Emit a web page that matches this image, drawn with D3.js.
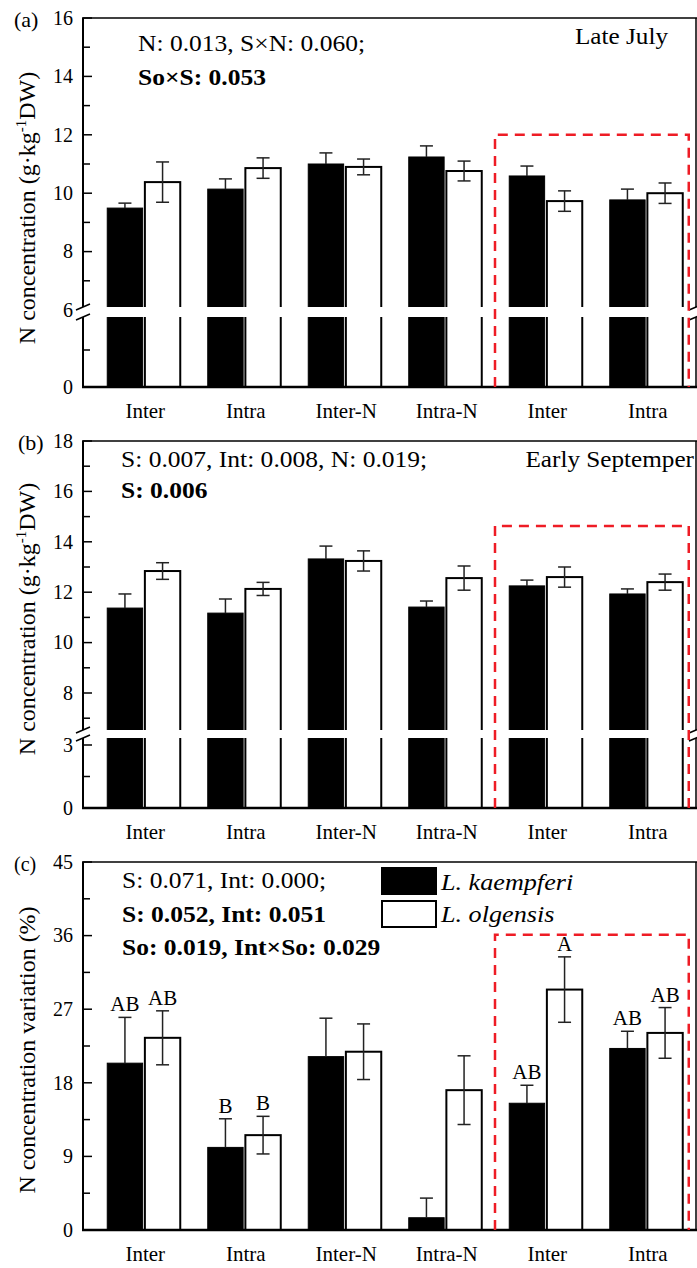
<!DOCTYPE html>
<html>
<head>
<meta charset="utf-8">
<script src="https://cdn.jsdelivr.net/npm/d3@7"></script>
<style>
  body { margin: 0; background: #fff; }
  svg { display: block; font-family: "Liberation Serif", "Times New Roman", serif; }
</style>
</head>
<body>
<svg id="chart" width="697" height="1268"></svg>
<script>
// categories
const groups = ["Inter", "Intra", "Inter-N", "Intra-N", "Inter", "Intra"];
const species = ["L. kaempferi", "L. olgensis"];

// (a) Late July, N concentration
const julyKaempferi = [9.49, 10.14, 11.0, 11.24, 10.59, 9.77];
const julyKaempferiErr = [0.17, 0.35, 0.38, 0.38, 0.34, 0.37];
const julyOlgensis = [10.38, 10.86, 10.9, 10.76, 9.73, 10.0];
const julyOlgensisErr = [0.69, 0.35, 0.27, 0.34, 0.35, 0.35];

// (b) Early September, N concentration
const septKaempferi = [11.37, 11.17, 13.32, 11.41, 12.25, 11.93];
const septKaempferiErr = [0.56, 0.56, 0.51, 0.24, 0.23, 0.2];
const septOlgensis = [12.84, 12.13, 13.24, 12.56, 12.6, 12.4];
const septOlgensisErr = [0.33, 0.26, 0.4, 0.48, 0.4, 0.32];

// (c) N concentration variation (%)
const varKaempferi = [20.4, 10.1, 21.2, 1.5, 15.5, 22.2];
const varKaempferiErr = [5.6, 3.5, 4.7, 2.4, 2.2, 2.1];
const varOlgensis = [23.5, 11.6, 21.8, 17.1, 29.4, 24.1];
const varOlgensisErr = [3.3, 2.3, 3.4, 4.2, 4.0, 3.1];
const varLettersK = ["AB", "B", "", "", "AB", "AB"];
const varLettersO = ["AB", "B", "", "", "A", "AB"];

// axis ticks
const ticksAUpper = [6, 8, 10, 12, 14, 16], minorAUpper = [7, 9, 11, 13, 15];
const ticksALower = [0], minorALower = [3];
const ticksBUpper = [8, 10, 12, 14, 16, 18], minorBUpper = [7, 9, 11, 13, 15, 17];
const ticksBLower = [0, 3], minorBLower = [1.5];
const ticksC = [0, 9, 18, 27, 36, 45], minorC = [4.5, 13.5, 22.5, 31.5, 40.5];

// stats text
const notesA = ["N: 0.013, S×N: 0.060;", "So×S: 0.053"];
const notesB = ["S: 0.007, Int: 0.008, N: 0.019;", "S: 0.006"];
const notesC = ["S: 0.071, Int: 0.000;", "S: 0.052, Int: 0.051", "So: 0.019, Int×So: 0.029"];

const svg = d3.select("#chart");
const left = 83, right = 696;
const red = "#ee1c25";

const x = d3.scaleBand().domain(d3.range(groups.length)).range([95, 698]);
const x1 = d3.scaleBand().domain([0, 1]).range([-38, 35]).paddingInner(0.06);
const center = i => x(i) + x.bandwidth() / 2;

// text slightly wider than the font, as in the original figure
function wideText(g, tx, ty, sx) {
  return g.append("text").attr("transform", `translate(${tx},${ty}) scale(${sx},1)`);
}

function drawPanel(p) {
  const g = svg.append("g");
  // y function, piecewise when the axis is broken
  const yUp = d3.scaleLinear().domain(p.upDomain).range(p.upRange);
  const yLo = p.loDomain ? d3.scaleLinear().domain(p.loDomain).range(p.loRange) : null;
  const y = v => (yLo && v < p.breakVal) ? yLo(v) : yUp(v);

  const series = [
    { vals: p.k, errs: p.kErr, fill: "#000", letters: p.lettersK },
    { vals: p.o, errs: p.oErr, fill: "#fff", letters: p.lettersO }
  ];

  series.forEach((s, si) => {
    g.selectAll(null).data(s.vals).enter().append("rect")
      .attr("x", (d, i) => center(i) + x1(si))
      .attr("width", x1.bandwidth())
      .attr("y", d => y(d))
      .attr("height", d => p.bottom - y(d))
      .attr("fill", s.fill)
      .attr("stroke", "#000")
      .attr("stroke-width", si === 0 ? 1 : 2);
  });

  // error bars (lower half hidden inside the black bars)
  series.forEach((s, si) => {
    s.vals.forEach((v, i) => {
      const cx = center(i) + x1(si) + x1.bandwidth() / 2;
      const e = s.errs[i];
      const ends = si === 0 ? [v + e] : [v + e, v - e];
      g.append("line").attr("x1", cx).attr("x2", cx)
        .attr("y1", y(si === 0 ? v : v - e)).attr("y2", y(v + e))
        .attr("stroke", "#222").attr("stroke-width", 1.5);
      ends.forEach(t => {
        g.append("line").attr("x1", cx - 6.5).attr("x2", cx + 6.5)
          .attr("y1", y(t)).attr("y2", y(t))
          .attr("stroke", "#222").attr("stroke-width", 1.5);
      });
      if (s.letters && s.letters[i]) {
        g.append("text").attr("x", cx).attr("y", y(v + e) - 6)
          .attr("text-anchor", "middle").attr("font-size", 21)
          .text(s.letters[i]);
      }
    });
  });

  // axis break gap
  if (p.gap) {
    g.append("rect").attr("x", 76).attr("y", p.gap[0])
      .attr("width", 630).attr("height", p.gap[1] - p.gap[0]).attr("fill", "#fff");
  }

  // frame
  const segs = p.gap ? [[p.top, p.gap[0]], [p.gap[1], p.bottom]] : [[p.top, p.bottom]];
  segs.forEach(sg => {
    g.append("line").attr("x1", left).attr("x2", left).attr("y1", sg[0]).attr("y2", sg[1])
      .attr("stroke", "#000").attr("stroke-width", 2);
    g.append("line").attr("x1", right).attr("x2", right).attr("y1", sg[0]).attr("y2", sg[1])
      .attr("stroke", "#000").attr("stroke-width", 1.5);
  });
  g.append("line").attr("x1", left - 1).attr("x2", right + 1).attr("y1", p.top).attr("y2", p.top)
    .attr("stroke", "#000").attr("stroke-width", 1.5);
  g.append("line").attr("x1", left - 1).attr("x2", right + 1).attr("y1", p.bottom).attr("y2", p.bottom)
    .attr("stroke", "#000").attr("stroke-width", 2.5);

  if (p.gap) {
    [left, right].forEach(ax => {
      p.gap.forEach(gy => {
        g.append("line").attr("x1", ax - 7).attr("x2", ax + 7)
          .attr("y1", gy + 3).attr("y2", gy - 3)
          .attr("stroke", "#000").attr("stroke-width", 1.5);
      });
    });
  }

  // ticks (inward) and labels
  const tickSets = [
    { scale: yUp, major: p.upTicks, minor: p.upMinor, up: true },
    yLo ? { scale: yLo, major: p.loTicks, minor: p.loMinor, up: false } : null
  ].filter(Boolean);
  tickSets.forEach(ts => {
    ts.major.forEach(t => {
      const ty = ts.scale(t);
      if (!(p.hideTick && p.hideTick.includes(t) && ts.up)) {
        g.append("line").attr("x1", left).attr("x2", left + 9).attr("y1", ty).attr("y2", ty)
          .attr("stroke", "#000").attr("stroke-width", 1.5);
      }
      g.append("text").attr("x", 73).attr("y", ty).attr("dy", "0.34em")
        .attr("text-anchor", "end").attr("font-size", 20).text(t);
    });
    ts.minor.forEach(t => {
      const ty = ts.scale(t);
      g.append("line").attr("x1", left).attr("x2", left + 7).attr("y1", ty).attr("y2", ty)
        .attr("stroke", "#000").attr("stroke-width", 1.5);
    });
  });

  // red dashed box
  const bx0 = (center(3) + center(4)) / 2 - 2;
  const bx1 = center(5) + 41;
  const by = y(p.boxTop);
  g.append("path")
    .attr("d", `M${bx0},${p.bottom} L${bx0},${by} L${bx1},${by} L${bx1},${p.bottom}`)
    .attr("fill", "none").attr("stroke", red).attr("stroke-width", 2.5)
    .attr("stroke-dasharray", "10,7");

  // x labels
  g.selectAll(null).data(groups).enter().append("text")
    .attr("x", (d, i) => center(i)).attr("y", p.bottom + 31)
    .attr("text-anchor", "middle").attr("font-size", 21).text(d => d);

  // panel label
  g.append("text").attr("x", p.labelX).attr("y", p.top + 9)
    .attr("font-size", p.labelSize).text(p.label);

  // y title
  const yt = g.append("text")
    .attr("transform", `translate(35,${p.titleY}) rotate(-90)`)
    .attr("text-anchor", "middle").attr("font-size", 24);
  if (p.unit) {
    yt.append("tspan").text("N concentration (g·kg");
    yt.append("tspan").attr("dy", -9).attr("font-size", 15).text("-1");
    yt.append("tspan").attr("dy", 9).text("DW)");
  } else {
    yt.text("N concentration variation (%)");
  }

  // stats notes
  p.notes.forEach((n, i) => {
    wideText(g, p.noteX, p.noteY + i * p.noteStep, 1.11)
      .attr("font-size", 23).attr("font-weight", i === 0 ? "normal" : "bold").text(n);
  });
  if (p.season) {
    wideText(g, p.seasonX, p.top + 26, 1.05)
      .attr("text-anchor", "end").attr("font-size", 24).text(p.season);
  }
  return g;
}

drawPanel({
  label: "(a)", labelX: 14, labelSize: 22, top: 18, bottom: 387,
  upDomain: [6, 16], upRange: [310, 18], loDomain: [0, 6], loRange: [387, 313], breakVal: 6,
  gap: [307, 317], upTicks: ticksAUpper, upMinor: minorAUpper, loTicks: ticksALower, loMinor: minorALower,
  hideTick: [6],
  k: julyKaempferi, kErr: julyKaempferiErr, o: julyOlgensis, oErr: julyOlgensisErr,
  boxTop: 12, unit: true, titleY: 208,
  notes: notesA, noteX: 138, noteY: 51, noteStep: 34,
  season: "Late July", seasonX: 668
});

drawPanel({
  label: "(b)", labelX: 18, labelSize: 22, top: 441, bottom: 808,
  upDomain: [8, 18], upRange: [693, 441], loDomain: [0, 3], loRange: [808, 745], breakVal: 5,
  gap: [730, 738], upTicks: ticksBUpper, upMinor: minorBUpper, loTicks: ticksBLower, loMinor: minorBLower,
  k: septKaempferi, kErr: septKaempferiErr, o: septOlgensis, oErr: septOlgensisErr,
  boxTop: 14.63, unit: true, titleY: 619,
  notes: notesB, noteX: 121, noteY: 467, noteStep: 31,
  season: "Early Septemper", seasonX: 694
});

drawPanel({
  label: "(c)", labelX: 14, labelSize: 20, top: 862, bottom: 1230,
  upDomain: [0, 45], upRange: [1230, 862],
  upTicks: ticksC, upMinor: minorC,
  k: varKaempferi, kErr: varKaempferiErr, o: varOlgensis, oErr: varOlgensisErr,
  lettersK: varLettersK, lettersO: varLettersO,
  boxTop: 36.1, unit: false, titleY: 1050,
  notes: notesC, noteX: 122, noteY: 888, noteStep: 33.5
});

// legend in panel (c)
const legend = svg.append("g");
species.forEach((s, i) => {
  legend.append("rect").attr("x", 382).attr("y", 868 + i * 33)
    .attr("width", 54).attr("height", 26)
    .attr("fill", i === 0 ? "#000" : "#fff").attr("stroke", "#000").attr("stroke-width", 2);
  wideText(legend, 441, 890 + i * 32, 1.09)
    .attr("font-size", 24).attr("font-style", "italic").text(s);
});
</script>
</body>
</html>
